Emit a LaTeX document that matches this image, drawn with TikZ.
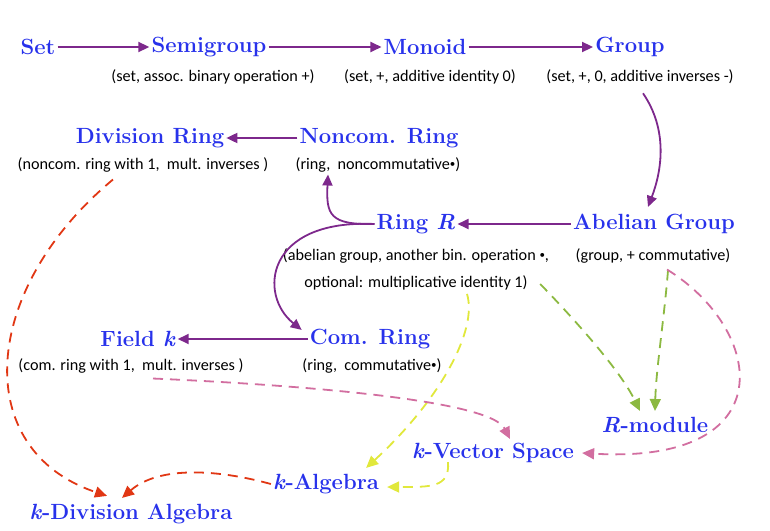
\documentclass[tikz,border=0pt]{standalone}
\usepackage{fontspec}
\newfontfamily\subfont{Carlito}
\usetikzlibrary{arrows.meta,calc}
\definecolor{tblue}{RGB}{40,50,235}
\definecolor{tpurple}{RGB}{125,40,140}
\definecolor{tred}{RGB}{225,55,20}
\definecolor{tyellow}{RGB}{225,232,60}
\definecolor{tgreen}{RGB}{140,185,65}
\definecolor{tpink}{RGB}{210,110,160}
\newcommand{\smallbul}{\raisebox{2pt}{\fontsize{11}{11}\selectfont•}}
\tikzset{
  ttl/.style={text=tblue, font=\bfseries\fontsize{22}{24}\selectfont, inner sep=2pt},
  sub/.style={font=\subfont\fontsize{16.2}{27}\selectfont, inner sep=1pt, align=center},
  parr/.style={draw=tpurple, line width=1.8pt, -{Triangle[length=11pt,width=10pt]}},
  darr/.style={dash pattern=on 10pt off 7pt, line width=1.8pt, -{Triangle[length=12pt,width=11pt]}}
}
\begin{document}
\begin{tikzpicture}[x=1pt,y=-1pt]
\useasboundingbox (0,0) rectangle (770,530);
% titles and descriptions
\node[ttl] (set) at (38,47) {Set};
\node[ttl] (semi) at (209,47) {Semigroup};
\node[sub] (semis) at (213,77) {(set, assoc. binary operation +)};
\node[ttl] (mon) at (425,47) {Monoid};
\node[sub] (mons) at (430,77) {(set, +, additive identity 0)};
\node[ttl] (grp) at (630,47) {Group};
\node[sub] (grps) at (640,77) {(set, +, 0, additive inverses -)};
\node[ttl] (div) at (150,138) {Division Ring};
\node[sub] (divs) at (143,165) {(noncom. ring with 1,\ \ mult. inverses )};
\node[ttl] (nc) at (379,138) {Noncom. Ring};
\node[sub] (ncs) at (378,165) {(ring,\ \ noncommutative\smallbul)};
\node[ttl] (ring) at (416,224) {Ring \textit{R}};
\node[sub] (rings) at (416,269) {(abelian group, another bin. operation \smallbul,\\optional: multiplicative identity 1)};
\node[ttl] (abel) at (654,224) {Abelian Group};
\node[sub] (abels) at (653,256) {(group, + commutative)};
\node[ttl] (field) at (138,339) {Field \textit{k}};
\node[sub] (fields) at (131,366) {(com. ring with 1,\ \ mult. inverses )};
\node[ttl] (com) at (370,339) {Com. Ring};
\node[sub] (coms) at (372,366) {(ring,\ \ commutative\smallbul)};
\node[ttl] (rmod) at (655,425) {\textit{R}-module};
\node[ttl] (kvs) at (493,453) {\textit{k}-Vector Space};
\node[ttl] (kalg) at (326,484) {\textit{k}-Algebra};
\node[ttl] (kdiv) at (131,514) {\textit{k}-Division Algebra};
% solid purple arrows
\draw[parr] (set) -- (semi);
\draw[parr] (semi) -- (mon);
\draw[parr] (mon) -- (grp);
\draw[parr] (nc) -- (div);
\draw[parr] (abel) -- (ring);
\draw[parr] (com) -- (field);
\draw[parr] ($(grps.south)+(3,8)$) .. controls (668,130) and (662,170) .. ($(abel.north)+(-6,-5)$);
\draw[parr] (ring.west) .. controls (330,225) and (326,215) .. ($(ncs.south)+(-50,1)$);
\draw[parr] (ring.west) .. controls (265,219) and (258,295) .. ($(com.north west)+(-6,3)$);
% dashed arrows
\draw[darr, tred] ($(divs.south)+(-30,6)$) .. controls (-20,290) and (-30,450) .. ($(kdiv.north)+(-24,-6)$);
\draw[darr, tred] (kalg.west) .. controls (220,470) and (160,465) .. ($(kdiv.north)+(-9,-4)$);
\draw[darr, tyellow] ($(rings.south)+(51,3)$) .. controls (478,330) and (440,400) .. ($(kalg.north east)+(-15,-4)$);
\draw[darr, tyellow] ($(kvs.south)+(-45,-3)$) .. controls (450,488) and (430,487) .. ($(kalg.east)+(6,3)$);
\draw[darr, tgreen] ($(rings.east)+(-10,15)$) .. controls (575,320) and (620,370) .. ($(rmod.north)+(-15,-4)$);
\draw[darr, tgreen] ($(abels.south)+(15,6)$) .. controls (664,320) and (656,370) .. ($(rmod.north)+(0,-4)$);
\draw[darr, tpink] ($(abels.south)+(14,5)$) .. controls (765,330) and (785,465) .. ($(kvs.east)+(6,0)$);
\draw[darr, tpink] ($(fields.south)+(22,4)$) .. controls (300,385) and (490,400) .. ($(kvs.north)+(17,-2)$);
\end{tikzpicture}
\end{document}
